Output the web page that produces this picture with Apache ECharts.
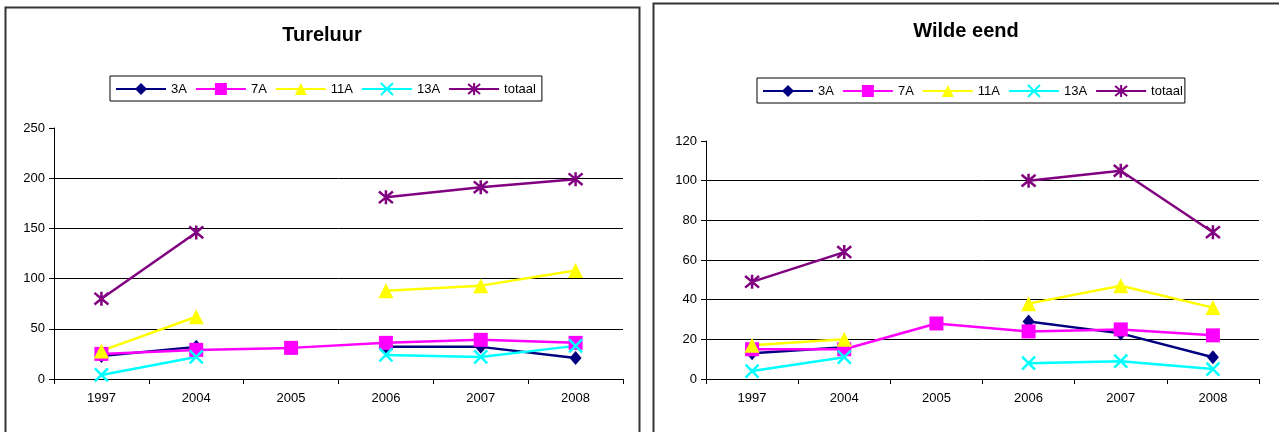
<!DOCTYPE html>
<html>
<head>
<meta charset="utf-8">
<script src="https://cdn.jsdelivr.net/npm/echarts@6/dist/echarts.min.js"></script>
<style>
  html, body { margin: 0; padding: 0; background: #fff; }
  #main { width: 1279px; height: 432px; }
</style>
</head>
<body>
<div id="main"></div>
<script>
// categories
const years = ['1997', '2004', '2005', '2006', '2007', '2008'];

// Tureluur
const tur3A = [23, 32, null, 32, 32, 21];
const tur7A = [25, 29, 31, 36, 39, 36];
const tur11A = [28, 62, null, 88, 93, 108];
const tur13A = [4, 22, null, 24, 22, 33];
const turTotaal = [80, 146, null, 181, 191, 199];

// Wilde eend
const we3A = [13, 16, null, 29, 23, 11];
const we7A = [15, 15, 28, 24, 25, 22];
const we11A = [17, 20, null, 38, 47, 36];
const we13A = [4, 11, null, 8, 9, 5];
const weTotaal = [49, 64, null, 100, 105, 74];

const names = ['3A', '7A', '11A', '13A', 'totaal'];
const colors = ['#000080', '#FF00FF', '#FFFF00', '#00FFFF', '#800080'];

const FONT = '"Liberation Sans", Arial, sans-serif';

// symbool per reeks
const symbols = [
    { symbol: 'diamond', symbolSize: [12, 14], stroke: false },
    { symbol: 'rect', symbolSize: 14, stroke: false },
    { symbol: 'triangle', symbolSize: 15, stroke: false },
    { symbol: 'path://M0,0L10,10M10,0L0,10', symbolSize: 13, stroke: true },
    { symbol: 'path://M0,0L10,10M10,0L0,10M5,-1L5,11', symbolSize: 14, stroke: true }
];

function makeSeries(dataList, axisIdx) {
    return dataList.map((d, i) => {
        const s = symbols[i];
        return {
            name: names[i],
            type: 'line',
            xAxisIndex: axisIdx,
            yAxisIndex: axisIdx,
            data: d,
            connectNulls: false,
            symbol: s.symbol,
            symbolSize: s.symbolSize,
            showAllSymbol: true,
            lineStyle: { color: colors[i], width: 2.5 },
            itemStyle: s.stroke
                ? { color: 'rgba(0,0,0,0)', borderColor: colors[i], borderWidth: 2.5 }
                : { color: colors[i], borderWidth: 0 },
            emphasis: { disabled: true },
            animation: false
        };
    });
}

function legendFor(left, top, padRight) {
    return {
        left: left, top: top,
        orient: 'horizontal',
        data: names.map(n => ({ name: n })),
        itemWidth: 50,
        itemHeight: 15,
        itemGap: 8,
        padding: [6, padRight, 5, 5],
        borderColor: '#000',
        borderWidth: 1,
        backgroundColor: '#fff',
        textStyle: { fontFamily: FONT, fontSize: 13, color: '#000' },
        selectedMode: false
    };
}

function yAxisFor(gridIdx, max, step) {
    const n = Math.round(max / step);
    const gc = [];
    for (let i = 0; i <= n; i++) gc.push(i === n ? 'rgba(0,0,0,0)' : '#000');
    return {
        type: 'value',
        gridIndex: gridIdx,
        min: 0, max: max, interval: step,
        axisLine: { show: true, lineStyle: { color: '#000', width: 1 } },
        axisTick: { show: true, length: 5, lineStyle: { color: '#000' } },
        axisLabel: { fontFamily: FONT, fontSize: 13, color: '#000', margin: 9 },
        splitLine: { show: true, lineStyle: { color: gc, width: 1 } }
    };
}

function xAxisFor(gridIdx) {
    return {
        type: 'category',
        gridIndex: gridIdx,
        data: years,
        boundaryGap: true,
        axisLine: { show: true, lineStyle: { color: '#000', width: 1 } },
        axisTick: { show: true, length: 5, alignWithLabel: false, lineStyle: { color: '#000' } },
        axisLabel: { fontFamily: FONT, fontSize: 13, color: '#000', margin: 13 },
        splitLine: { show: false }
    };
}

var myChart = echarts.init(document.getElementById('main'));
myChart.setOption({
    backgroundColor: '#fff',
    animation: false,
    graphic: [
        // kaders om de twee grafieken
        { type: 'rect', shape: { x: 5.5, y: 7.5, width: 634, height: 500 },
          style: { fill: 'none', stroke: '#333', lineWidth: 2 }, silent: true },
        { type: 'rect', shape: { x: 653.5, y: 3.5, width: 700, height: 500 },
          style: { fill: 'none', stroke: '#333', lineWidth: 2 }, silent: true }
    ],
    title: [
        { text: 'Tureluur', left: 322, top: 25, textAlign: 'center', padding: 0,
          textStyle: { fontFamily: FONT, fontSize: 20, fontWeight: 'bold', color: '#000' } },
        { text: 'Wilde eend', left: 966, top: 21, textAlign: 'center', padding: 0,
          textStyle: { fontFamily: FONT, fontSize: 20, fontWeight: 'bold', color: '#000' } }
    ],
    legend: [legendFor(110, 76, 6), legendFor(757, 78, 2)],
    grid: [
        { left: 54, top: 128, width: 569, height: 251, containLabel: false },
        { left: 706, top: 141, width: 553, height: 238, containLabel: false }
    ],
    xAxis: [xAxisFor(0), xAxisFor(1)],
    yAxis: [yAxisFor(0, 250, 50), yAxisFor(1, 120, 20)],
    series: [
        ...makeSeries([tur3A, tur7A, tur11A, tur13A, turTotaal], 0),
        ...makeSeries([we3A, we7A, we11A, we13A, weTotaal], 1)
    ]
});
</script>
</body>
</html>
